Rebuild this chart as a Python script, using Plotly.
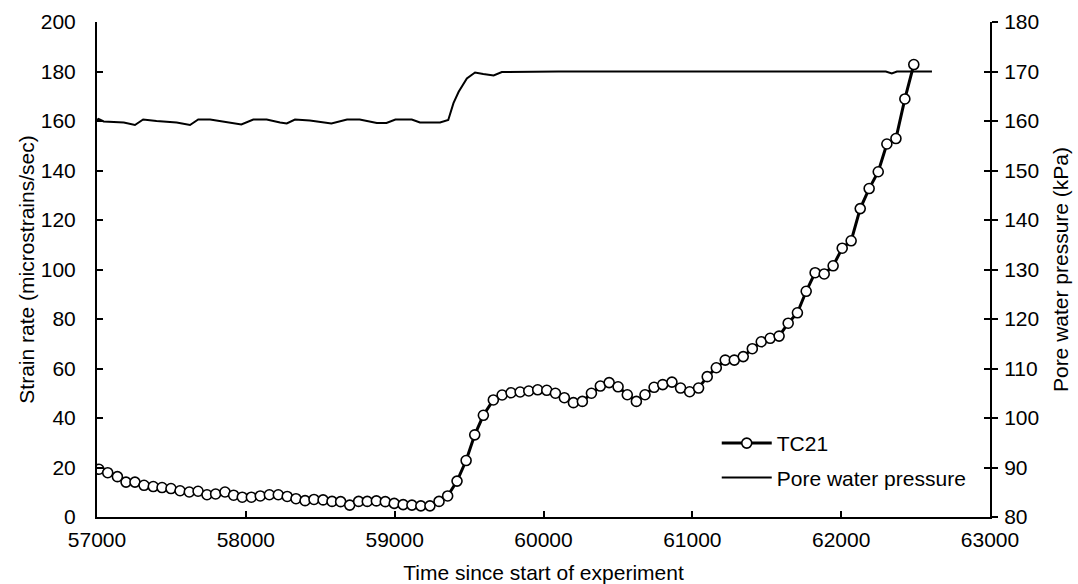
import plotly.graph_objects as go

# TC21 strain rate (microstrains/sec) vs time
time_tc21 = [57013, 57072, 57137, 57195, 57255, 57316, 57378, 57437, 57497, 57558,
             57620, 57679, 57739, 57797, 57860, 57918, 57976, 58037, 58097, 58158,
             58218, 58278, 58337, 58398, 58458, 58519, 58579, 58637, 58698, 58758,
             58816, 58877, 58937, 58997, 59057, 59116, 59176, 59237, 59298, 59356,
             59419, 59480, 59538, 59596, 59663, 59722, 59782, 59843, 59901, 59961,
             60022, 60080, 60140, 60201, 60261, 60322, 60382, 60441, 60501, 60563,
             60624, 60682, 60743, 60801, 60863, 60921, 60982, 61042, 61100, 61161,
             61221, 61282, 61342, 61403, 61463, 61523, 61583, 61644, 61706, 61765,
             61825, 61886, 61946, 62007, 62067, 62128, 62188, 62249, 62307, 62368,
             62428, 62488]
strain_tc21 = [19.3, 17.9, 16.3, 14.1, 14.1, 12.8, 12.3, 11.9, 11.5, 10.6,
               10.1, 10.4, 9.0, 9.3, 10.1, 8.8, 8.0, 8.0, 8.5, 9.0,
               9.0, 8.3, 7.4, 6.6, 7.1, 6.9, 6.3, 6.2, 4.8, 6.3,
               6.3, 6.5, 6.2, 5.5, 5.0, 4.8, 4.5, 4.5, 6.3, 8.5,
               14.5, 22.8, 33.2, 41.1, 47.3, 49.3, 50.2, 50.5, 50.9, 51.4,
               51.2, 50.0, 48.2, 46.2, 46.7, 50.0, 52.9, 54.3, 52.6, 49.4,
               46.7, 49.4, 52.4, 53.5, 54.5, 52.1, 50.6, 52.1, 56.7, 60.3,
               63.4, 63.4, 64.8, 68.0, 70.8, 72.2, 73.1, 78.3, 82.5, 91.2,
               98.7, 98.2, 101.5, 108.6, 111.6, 124.6, 132.7, 139.5, 150.7, 152.9,
               168.9, 182.8]

# Pore water pressure (kPa) vs time
time_pwp = [57000, 57010, 57045, 57180, 57255, 57310, 57400, 57535, 57625, 57680,
            57760, 57895, 57970, 58050, 58140, 58230, 58275, 58330, 58430, 58575,
            58680, 58765, 58880, 58945, 59005, 59115, 59170, 59305, 59360, 59395,
            59430, 59485, 59540, 59595, 59665, 59720, 60100, 61000, 62000, 62300,
            62340, 62375, 62610]
pwp = [160.2, 160.4, 159.9, 159.7, 159.2, 160.3, 160.0, 159.7, 159.2, 160.3,
       160.3, 159.7, 159.3, 160.3, 160.3, 159.7, 159.5, 160.3, 160.1, 159.5,
       160.3, 160.3, 159.6, 159.6, 160.3, 160.3, 159.7, 159.7, 160.2, 163.6,
       165.9, 168.6, 169.8, 169.5, 169.2, 169.9, 170.0, 170.0, 170.0, 170.0,
       169.6, 170.0, 170.0]

x_range = [57000, 63000]
strain_range = [0, 200]
pwp_range = [80, 180]

FONT = "Liberation Sans, Arial, sans-serif"
FS = 21

fig = go.Figure()
fig.add_trace(go.Scatter(
    x=time_tc21, y=strain_tc21, name="TC21", mode="lines+markers", yaxis="y2",
    line=dict(color="black", width=3),
    marker=dict(symbol="circle", size=10, color="white",
                line=dict(color="black", width=1.6)),
    legendgroup="a"))
fig.add_trace(go.Scatter(
    x=time_pwp, y=pwp, name="Pore water pressure", mode="lines", yaxis="y",
    line=dict(color="black", width=2), legendgroup="b"))

axis_common = dict(showline=True, linecolor="black", linewidth=2, showgrid=False,
                   zeroline=False, ticklen=6, tickwidth=1.5, tickcolor="black",
                   tickfont=dict(family=FONT, size=FS, color="black"),
                   automargin=False)

fig.update_layout(
    width=1078, height=584,
    margin=dict(l=97, r=88, t=22, b=67, pad=0),
    paper_bgcolor="white", plot_bgcolor="white",
    font=dict(family=FONT, size=FS, color="black"),
    xaxis=dict(range=x_range, dtick=1000, tick0=57000, ticks="inside",
               tickformat="d", ticklabelstandoff=3,
               title=dict(text="Time since start of experiment", standoff=21,
                          font=dict(family=FONT, size=FS, color="black")),
               **axis_common),
    yaxis=dict(range=pwp_range, dtick=10, tick0=80, side="right", ticks="outside",
               ticklabelstandoff=2,
               title=dict(text="Pore water pressure (kPa)", standoff=15,
                          font=dict(family=FONT, size=FS, color="black")),
               **axis_common),
    yaxis2=dict(range=strain_range, dtick=20, tick0=0, side="left", overlaying="y",
                ticks="inside", ticklabelstandoff=15,
                title=dict(text="Strain rate (microstrains/sec)", standoff=0,
                           font=dict(family=FONT, size=FS, color="black")),
                **axis_common),
    yaxis3=dict(range=pwp_range, dtick=10, tick0=80, side="right", overlaying="y",
                ticks="inside", ticklen=6, tickwidth=1.5, tickcolor="black",
                showticklabels=False, showline=False, showgrid=False,
                zeroline=False, automargin=False),
    legend=dict(x=0.694, y=0.19, xanchor="left", yanchor="top",
                bgcolor="rgba(0,0,0,0)", font=dict(family=FONT, size=FS, color="black"),
                itemwidth=50, tracegroupgap=4, traceorder="grouped"),
    showlegend=True,
)
# empty trace so the inner half of the right-axis cross ticks is drawn
fig.add_trace(go.Scatter(x=[None], y=[None], yaxis="y3", showlegend=False, hoverinfo="skip"))

fig.write_html("out.html")
